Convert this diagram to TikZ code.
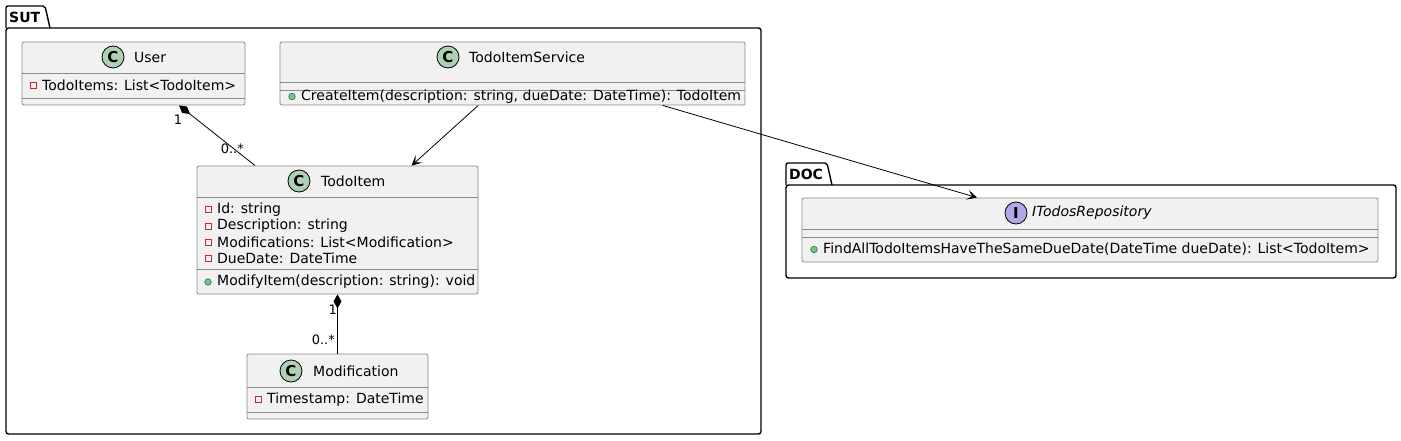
\documentclass[tikz,border=0pt]{standalone}
\usepackage{fontspec}
\setmainfont{DejaVu Sans}
\usetikzlibrary{positioning,arrows.meta}
\definecolor{boxfill}{HTML}{F1F1F1}
\definecolor{boxline}{HTML}{8A8A8A}
\definecolor{cfill}{HTML}{ADD1B2}
\definecolor{ifill}{HTML}{B4A7E5}
\definecolor{privred}{HTML}{C82930}
\definecolor{pubfill}{HTML}{84BE84}
\definecolor{publine}{HTML}{038048}
\tikzset{
  classbox/.style={draw=boxline, fill=boxfill, line width=0.8pt, rounded corners=2pt, inner sep=0pt},
  sep/.style={draw=boxline, line width=0.8pt},
  pkg/.style={draw=black, line width=1.4pt},
  pkgtitle/.style={font=\fontsize{14}{16}\selectfont\bfseries, inner sep=0pt, anchor=west},
  title/.style={font=\fontsize{14}{16}\selectfont, inner sep=0pt, anchor=west},
  ititle/.style={font=\fontsize{14}{16}\selectfont\itshape, inner sep=0pt, anchor=west},
  memb/.style={font=\fontsize{14}{16}\selectfont, inner sep=0pt, anchor=west},
  mult/.style={font=\fontsize{13}{15}\selectfont, inner sep=0pt},
  cicon/.style={circle, draw=black, fill=cfill, line width=0.8pt, minimum size=22pt, inner sep=0pt, font=\fontsize{15}{17}\selectfont\bfseries},
  iicon/.style={cicon, fill=ifill},
  priv/.style={draw=privred, line width=0.8pt, minimum size=6pt, inner sep=0pt},
  pub/.style={circle, draw=publine, fill=pubfill, line width=0.6pt, minimum size=6.5pt, inner sep=0pt},
  comp/.style={draw=black, line width=0.8pt, {Diamond[length=14pt,width=8pt]}-},
  assoc/.style={draw=black, line width=0.8pt, -{Stealth[length=10pt,width=10pt,inset=5pt]}},
}

\begin{document}
\begin{tikzpicture}[x=1pt,y=-1pt]
\useasboundingbox (0,0) rectangle (1401,441);
% SUT package
\draw[pkg, rounded corners=2pt] (6,28) -- (6,6) -- (45,6) -- (50,28);
\draw[pkg, rounded corners=2.5pt] (6,28) rectangle (761,434);
\node[pkgtitle] (sut) at (9,17) {SUT};
% DOC package
\draw[pkg, rounded corners=2pt] (786,185) -- (786,163) -- (827,163) -- (832,185);
\draw[pkg, rounded corners=2.5pt] (786,185) rectangle (1396,278);
\node[pkgtitle] (doc) at (789,174) {DOC};

% User
\node[classbox, minimum width=223pt, minimum height=63pt] (user) at (133.5,73.5) {};
\node[cicon] (usericon) at (113,57) {C};
\node[title] (usertitle) at (134,57) {User};
\draw[sep] (user.west |- 0,73) -- (user.east |- 0,73);
\draw[sep] (user.west |- 0,98) -- (user.east |- 0,98);
\node[priv] (userp1) at (33,85.5) {};
\node[memb] (usera1) at (42,85.5) {TodoItems: List<TodoItem>};

% TodoItemService
\node[classbox, minimum width=465pt, minimum height=63pt] (service) at (512.5,73.5) {};
\node[cicon] (serviceicon) at (448,57) {C};
\node[title] (servicetitle) at (469,57) {TodoItemService};
\draw[sep] (service.west |- 0,82) -- (service.east |- 0,82);
\draw[sep] (service.west |- 0,90) -- (service.east |- 0,90);
\node[pub] (servicep1) at (292,96.5) {};
\node[memb] (servicem1) at (301,96.5) {CreateItem(description: string, dueDate: DateTime): TodoItem};

% TodoItem
\node[classbox, minimum width=281pt, minimum height=128pt] (todoitem) at (337.5,230) {};
\node[cicon] (todoitemicon) at (299,181) {C};
\node[title] (todoitemtitle) at (321,181) {TodoItem};
\draw[sep] (todoitem.west |- 0,197) -- (todoitem.east |- 0,197);
\draw[sep] (todoitem.west |- 0,269) -- (todoitem.east |- 0,269);
\node[priv] (todoitemp1) at (208,209.5) {};
\node[memb] (todoitema1) at (217,209.5) {Id: string};
\node[priv] (todoitemp2) at (208,226) {};
\node[memb] (todoitema2) at (217,226) {Description: string};
\node[priv] (todoitemp3) at (208,242) {};
\node[memb] (todoitema3) at (217,242) {Modifications: List<Modification>};
\node[priv] (todoitemp4) at (208,258.5) {};
\node[memb] (todoitema4) at (217,258.5) {DueDate: DateTime};
\node[pub] (todoitemp5) at (208,282) {};
\node[memb] (todoitemm1) at (217,282) {ModifyItem(description: string): void};

% Modification
\node[classbox, minimum width=181pt, minimum height=65pt] (modification) at (337.5,386.5) {};
\node[cicon] (modificationicon) at (291,371) {C};
\node[title] (modificationtitle) at (313,371) {Modification};
\draw[sep] (modification.west |- 0,387) -- (modification.east |- 0,387);
\draw[sep] (modification.west |- 0,412) -- (modification.east |- 0,412);
\node[priv] (modificationp1) at (258,399.5) {};
\node[memb] (modificationa1) at (267,399.5) {Timestamp: DateTime};

% ITodosRepository
\node[classbox, minimum width=576pt, minimum height=64pt] (repo) at (1090,230) {};
\node[iicon] (repoicon) at (1016,213) {I};
\node[ititle] (repotitle) at (1032,213) {ITodosRepository};
\draw[sep] (repo.west |- 0,229) -- (repo.east |- 0,229);
\draw[sep] (repo.west |- 0,237) -- (repo.east |- 0,237);
\node[pub] (repop1) at (814,249.5) {};
\node[memb] (repom1) at (823,249.5) {FindAllTodoItemsHaveTheSameDueDate(DateTime dueDate): List<TodoItem>};

% links
\draw[comp] (user.-35.7) -- (todoitem.142.9);
\node[mult] (usermult) at (178,120) {1};
\node[mult, anchor=east] (todoitemmult) at (244,149) {0..*};
\draw[assoc] (service.-137.6) -- (todoitem.41.4);
\draw[assoc] (service.-12.05) -- (repo.164.8);
\draw[comp] (todoitem.south) -- (modification.north);
\node[mult, anchor=east] (todoitemmult2) at (337,310) {1};
\node[mult, anchor=east] (modificationmult) at (335,340) {0..*};
\end{tikzpicture}
\end{document}
